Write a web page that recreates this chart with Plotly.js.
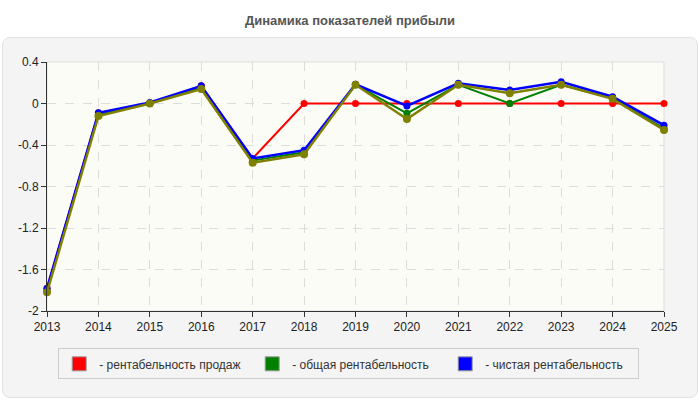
<!DOCTYPE html>
<html>
<head>
<meta charset="utf-8">
<script src="https://cdn.plot.ly/plotly-3.0.1.min.js"></script>
<style>
html,body{margin:0;padding:0;background:#fff;}
#wrap{position:relative;width:700px;height:400px;}
#panel{position:absolute;left:2px;top:37px;width:694px;height:359px;background:#f4f4f4;border:1px solid #e2e2e2;border-radius:8px;}
#chart{position:absolute;left:0;top:0;width:700px;height:400px;}
</style>
</head>
<body>
<div id="wrap"><div id="panel"></div><div id="chart"></div></div>
<script>
var years = [2013,2014,2015,2016,2017,2018,2019,2020,2021,2022,2023,2024,2025];
var salesProfitability = [-1.78,-0.09,0,0.17,-0.53,0,0,0,0,0,0,0,0];
var totalProfitability = [-1.8,-0.11,0,0.15,-0.55,-0.47,0.18,-0.095,0.18,0,0.18,0.05,-0.24];
var netProfitability   = [-1.78,-0.09,0.01,0.17,-0.53,-0.45,0.185,-0.024,0.195,0.13,0.21,0.065,-0.21];
var extraSeries        = [-1.82,-0.12,0,0.14,-0.57,-0.49,0.18,-0.15,0.18,0.1,0.18,0.045,-0.255];
var legendNames = ['- рентабельность продаж','- общая рентабельность','- чистая рентабельность'];
var yTickVals = [0.4,0,-0.4,-0.8,-1.2,-1.6,-2];
var yTickText = ['0.4','0','-0.4','-0.8','-1.2','-1.6','-2'];
var xTickText = years.map(String);

function line(y, color, w, ms){
  return {x: years, y: y, type:'scatter', mode:'lines+markers', showlegend:false,
    line:{color:color, width:w}, marker:{color:color, size:ms}, cliponaxis:false, hoverinfo:'x+y'};
}
function legendItem(name, color){
  return {x:[null], y:[null], type:'scatter', mode:'markers', name:name,
    marker:{symbol:'square', size:14, color:color, line:{color:'#999', width:1}}};
}
var data = [
  line(salesProfitability,'#ff0000',2,7),
  line(totalProfitability,'#008000',2,7),
  line(netProfitability,'#0000ff',2.5,7),
  line(extraSeries,'#808000',2.5,8),
  legendItem(legendNames[0],'#ff0000'),
  legendItem(legendNames[1],'#008000'),
  legendItem(legendNames[2],'#0000ff')
];
var layout = {
  width:700, height:400,
  margin:{l:47, r:36, t:62, b:89},
  paper_bgcolor:'rgba(0,0,0,0)',
  plot_bgcolor:'#fcfcf7',
  font:{family:'Arial, Liberation Sans, sans-serif', size:12, color:'#222'},
  title:{text:'<b>Динамика показателей прибыли</b>', x:0.5, xanchor:'center', y:0.95, yanchor:'middle',
    font:{size:13, color:'#555'}},
  xaxis:{range:[2013,2025], tickvals:years, ticktext:xTickText, showgrid:true, gridcolor:'#dcdcdc', griddash:'dash',
    showline:true, linecolor:'#333', linewidth:1, ticks:'outside', ticklen:5, tickcolor:'#333', zeroline:false,
    tickfont:{size:12, color:'#222'}, fixedrange:true},
  yaxis:{range:[-2,0.4], tickvals:yTickVals, ticktext:yTickText, showgrid:true, gridcolor:'#dcdcdc', griddash:'dash',
    showline:true, linecolor:'#333', linewidth:1, ticks:'outside', ticklen:5, tickcolor:'#333', zeroline:false,
    tickfont:{size:12, color:'#222'}, fixedrange:true},
  shapes:[{type:'rect', xref:'paper', yref:'paper', x0:0, x1:1, y0:0, y1:1, line:{color:'#dddddd', width:1}, layer:'below'}],
  legend:{orientation:'h', x:0.489, xanchor:'center', y:-0.15, yanchor:'top',
    bgcolor:'#f4f4f4', bordercolor:'#cccccc', borderwidth:1, entrywidth:148, itemwidth:30,
    font:{size:12, color:'#333'}},
  showlegend:true
};
Plotly.newPlot('chart', data, layout, {displayModeBar:false, staticPlot:true});
</script>
</body>
</html>
